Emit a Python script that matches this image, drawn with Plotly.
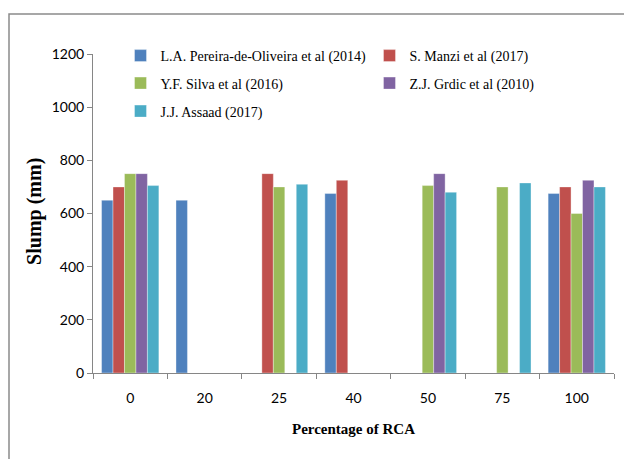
import plotly.graph_objects as go

categories = ["0", "20", "25", "40", "50", "75", "100"]
series_names = [
    "L.A. Pereira-de-Oliveira et al (2014)",
    "S. Manzi et al (2017)",
    "Y.F. Silva et al (2016)",
    "Z.J. Grdic et al (2010)",
    "J.J. Assaad (2017)",
]
pereira = [650, 650, None, 675, None, None, 675]
manzi = [700, None, 750, 725, None, None, 700]
silva = [750, None, 700, None, 705, 700, 600]
grdic = [750, None, None, None, 750, None, 725]
assaad = [705, None, 710, None, 680, 715, 700]
series_values = [pereira, manzi, silva, grdic, assaad]
colors = ["#4F81BD", "#C0504D", "#9BBB59", "#8064A2", "#4BACC6"]

serif = "Liberation Serif, Times New Roman, serif"
ticksans = "Lato, Open Sans, sans-serif"

# legend slots (one legend per entry, laid out in two columns like the original)
legend_ids = ["legend", "legend2", "legend3", "legend4", "legend5"]
legend_x = [0.0528, 0.5307, 0.0528, 0.5307, 0.0528]
legend_y = [0.9937, 0.9937, 0.9075, 0.9075, 0.8197]

fig = go.Figure()
for name, vals, col, lid in zip(series_names, series_values, colors, legend_ids):
    fig.add_trace(go.Bar(x=categories, y=vals, name=name, legend=lid,
                         marker=dict(color=col, line=dict(width=0.6, color="rgba(255,255,255,0.6)"))))

legend_common = dict(
    xanchor="left", yanchor="middle", itemwidth=30,
    font=dict(family=serif, size=14, color="black"),
    bgcolor="rgba(0,0,0,0)", borderwidth=0,
)
legend_layout = {}
for lid, lx, ly in zip(legend_ids, legend_x, legend_y):
    legend_layout[lid] = dict(x=lx, y=ly, **legend_common)

fig.update_layout(
    width=624, height=451,
    margin=dict(l=85, r=18, t=46, b=86, autoexpand=False),
    paper_bgcolor="white", plot_bgcolor="white",
    barmode="group", bargap=0.23, bargroupgap=0,
    showlegend=True,
    xaxis=dict(
        type="category", showline=True, linecolor="#868686", linewidth=1,
        ticks="outside", tickson="boundaries", ticklen=5, tickcolor="#868686",
        ticklabelstandoff=12,
        tickfont=dict(family=ticksans, size=14, color="black"),
        showgrid=False, automargin=False,
        title=dict(text="<b>Percentage of RCA</b>", font=dict(family=serif, size=15, color="black"), standoff=18),
    ),
    yaxis=dict(
        range=[0, 1200], dtick=200, showline=True, linecolor="#868686", linewidth=1,
        ticks="outside", ticklen=5, tickcolor="#868686",
        tickfont=dict(family=ticksans, size=14, color="black"),
        showgrid=False, zeroline=False, automargin=False,
    ),
    annotations=[dict(text="<b>Slump (mm)</b>", textangle=-90, showarrow=False,
                      xref="paper", yref="paper", x=-58/521, y=0.505,
                      xanchor="center", yanchor="middle",
                      font=dict(family=serif, size=20, color="black"))],
    shapes=[dict(type="rect", xref="paper", yref="paper",
                 x0=-84/521, x1=1.2, y0=-0.5, y1=1 + 40/319,
                 line=dict(color="#8a8a8a", width=1.5), layer="below")],
    **legend_layout,
)

fig.write_html("out.html")
